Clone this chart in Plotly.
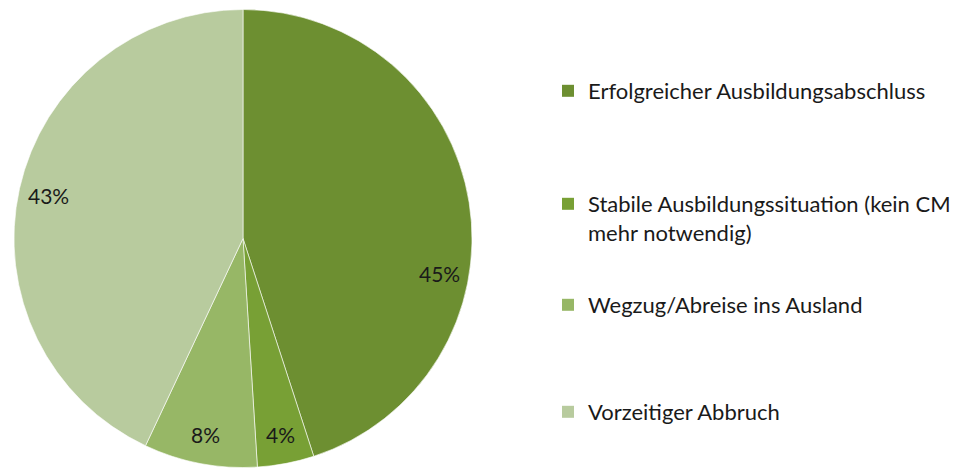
import math
import plotly.graph_objects as go

labels = ["Erfolgreicher Ausbildungsabschluss",
          "Stabile Ausbildungssituation (kein CM<br>mehr notwendig)",
          "Wegzug/Abreise ins Ausland",
          "Vorzeitiger Abbruch"]
values = [45, 4, 8, 43]
colors = ["#6D8F31", "#78A035", "#97B766", "#B8CB9E"]
# label placement style (Excel "best fit" look)
label_radius = [0.87, 0.87, 0.87, 0.87]
label_angle_offset = [19, 0, 0, 0]
legend_tops = [62, 175, 276, 383]  # px from top of figure

W, H = 960, 471
OFF = 8  # page body margin
cx, cy, r = 243 - OFF, 238.5 - OFF, 229

fig = go.Figure()
fig.add_trace(go.Pie(
    labels=labels, values=values, sort=False, direction="clockwise", rotation=0,
    marker=dict(colors=colors, line=dict(color="rgba(255,255,255,0.6)", width=1)),
    textinfo="none", showlegend=False, hoverinfo="label+percent",
    domain=dict(x=[(cx - r) / W, (cx + r) / W], y=[1 - (cy + r) / H, 1 - (cy - r) / H]),
))

total = sum(values)
cum = 0
for v, rf, ao in zip(values, label_radius, label_angle_offset):
    mid = (cum + v / 2) / total * 360 + ao
    cum += v
    a = math.radians(mid)
    px = cx + rf * r * math.sin(a)
    py = cy - rf * r * math.cos(a)
    fig.add_annotation(x=px / W, y=1 - py / H, xref="paper", yref="paper",
                       xanchor="center", yanchor="middle",
                       text=f"{round(v / total * 100)}%", showarrow=False,
                       font=dict(family="Lato", size=21, color="#1a1a1a"))

legend_names = ["legend", "legend2", "legend3", "legend4"]
for i, (lab, col, lg) in enumerate(zip(labels, colors, legend_names)):
    fig.add_trace(go.Scatter(
        x=[None], y=[None], mode="markers", name=lab, legend=lg,
        marker=dict(symbol="square", size=12, color=col),
        hoverinfo="skip",
    ))

leg_x = (588 - OFF - 40) / W
lay = dict(width=W, height=H, margin=dict(l=0, r=0, t=0, b=0, autoexpand=False),
           paper_bgcolor="white", plot_bgcolor="white",
           xaxis=dict(visible=False), yaxis=dict(visible=False))
for lg, top in zip(legend_names, legend_tops):
    lay[lg] = dict(x=leg_x, xanchor="left", y=1 - top / H, yanchor="top",
                   font=dict(family="Lato", size=22, color="#1a1a1a"),
                   valign="top", itemwidth=30, bgcolor="rgba(0,0,0,0)")
fig.update_layout(**lay)
fig.write_html("out.html")
